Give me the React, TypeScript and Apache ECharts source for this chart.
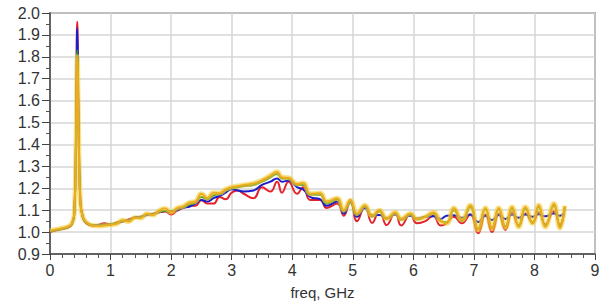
import React, { useEffect, useRef } from "react";
import * as echarts from "echarts";

const freq = [
  0, 0.1, 0.2, 0.3, 0.36, 0.4, 0.43, 0.45, 0.47, 0.5, 0.54, 0.6, 0.7, 0.8, 0.9,
  1.0, 1.1, 1.2, 1.3, 1.4, 1.5, 1.6, 1.7, 1.8, 1.9, 2.0, 2.1, 2.2, 2.3, 2.4,
  2.5, 2.6, 2.7, 2.8, 2.9, 3.0, 3.1, 3.2, 3.36, 3.5, 3.64, 3.75, 3.83, 3.94,
  4.08, 4.18, 4.3, 4.46, 4.57, 4.74, 4.85, 4.96, 5.07, 5.2, 5.32, 5.44, 5.56,
  5.7, 5.8, 5.95, 6.06, 6.2, 6.33, 6.45, 6.55, 6.67, 6.8, 6.94, 7.07, 7.19,
  7.3, 7.41, 7.52, 7.63, 7.74, 7.85, 7.97, 8.07, 8.18, 8.32, 8.42, 8.5,
];

const redSeries = [
  1.0, 1.008, 1.014, 1.022, 1.035, 1.08, 1.45, 1.96, 1.55, 1.15, 1.07, 1.04, 1.03, 1.034, 1.04,
  1.034, 1.044, 1.05, 1.058, 1.068, 1.07, 1.08, 1.082, 1.09, 1.094, 1.08, 1.098, 1.11, 1.12, 1.12,
  1.145, 1.13, 1.13, 1.16, 1.15, 1.18, 1.19, 1.175, 1.155, 1.205, 1.185, 1.23, 1.18, 1.23,
  1.175, 1.205, 1.146, 1.146, 1.11, 1.13, 1.075, 1.146, 1.05, 1.115, 1.042, 1.1, 1.032,
  1.088, 1.03, 1.08, 1.04, 1.05, 1.075, 1.03, 1.04, 1.07, 1.04, 1.08, 0.995, 1.08,
  1.0, 1.085, 1.01, 1.09, 1.03, 1.085, 1.045, 1.09, 1.035, 1.095, 1.035, 1.11,
];

const blueSeries = [
  1.0, 1.008, 1.014, 1.022, 1.035, 1.08, 1.45, 1.93, 1.55, 1.15, 1.07, 1.04, 1.03, 1.032, 1.035,
  1.036, 1.04, 1.048, 1.054, 1.066, 1.07, 1.078, 1.084, 1.09, 1.096, 1.094, 1.1, 1.112, 1.116, 1.13,
  1.146, 1.14, 1.155, 1.165, 1.18, 1.195, 1.19, 1.185, 1.19, 1.215, 1.23, 1.245, 1.23, 1.235,
  1.205, 1.195, 1.16, 1.15, 1.12, 1.14, 1.085, 1.135, 1.07, 1.11, 1.077, 1.078, 1.064,
  1.08, 1.06, 1.075, 1.062, 1.07, 1.072, 1.06, 1.075, 1.077, 1.065, 1.08, 1.046, 1.075,
  1.055, 1.078, 1.06, 1.08, 1.065, 1.08, 1.07, 1.082, 1.072, 1.085, 1.075, 1.09,
];

const greenSeries = [
  1.005, 1.01, 1.016, 1.024, 1.038, 1.08, 1.42, 1.83, 1.5, 1.14, 1.07, 1.045, 1.032, 1.03, 1.032,
  1.036, 1.04, 1.052, 1.052, 1.066, 1.068, 1.082, 1.08, 1.094, 1.096, 1.094, 1.106, 1.114, 1.126, 1.136,
  1.16, 1.15, 1.168, 1.175, 1.19, 1.2, 1.205, 1.21, 1.215, 1.23, 1.25, 1.265, 1.245, 1.245,
  1.215, 1.215, 1.17, 1.17, 1.13, 1.15, 1.095, 1.14, 1.08, 1.118, 1.07, 1.095, 1.06,
  1.086, 1.055, 1.082, 1.058, 1.07, 1.085, 1.05, 1.045, 1.1, 1.05, 1.115, 1.015, 1.105,
  1.02, 1.105, 1.025, 1.108, 1.028, 1.108, 1.04, 1.115, 1.028, 1.12, 1.025, 1.115,
];

const yellowSeries = [
  1.005, 1.012, 1.018, 1.026, 1.04, 1.08, 1.4, 1.8, 1.5, 1.14, 1.07, 1.045, 1.03, 1.028, 1.03,
  1.034, 1.038, 1.054, 1.048, 1.066, 1.064, 1.084, 1.078, 1.098, 1.108, 1.09, 1.11, 1.118, 1.135, 1.14,
  1.175, 1.155, 1.18, 1.178, 1.195, 1.205, 1.21, 1.215, 1.222, 1.237, 1.258, 1.275, 1.25, 1.248,
  1.22, 1.225, 1.175, 1.178, 1.14, 1.155, 1.1, 1.145, 1.085, 1.122, 1.075, 1.1, 1.062,
  1.09, 1.06, 1.085, 1.06, 1.07, 1.09, 1.05, 1.04, 1.11, 1.055, 1.123, 1.01, 1.11,
  1.015, 1.11, 1.02, 1.115, 1.023, 1.115, 1.04, 1.123, 1.023, 1.13, 1.018, 1.12,
];

const yTicks = ["0.9", "1.0", "1.1", "1.2", "1.3", "1.4", "1.5", "1.6", "1.7", "1.8", "1.9", "2.0"];
const xTicks = ["0", "1", "2", "3", "4", "5", "6", "7", "8", "9"];
const xName = "freq, GHz";

const pairs = (ys: number[]) => freq.map((f, i) => [f, ys[i]]);

export default function App() {
  const ref = useRef<HTMLDivElement>(null);
  useEffect(() => {
    if (!ref.current) return;
    const chart = echarts.init(ref.current, null, { renderer: "svg" });
    const font = "Liberation Sans, Arial, sans-serif";
    const lineBase = (name: string, data: number[], color: string, width: number, z: number) => ({
      name,
      type: "line",
      data: pairs(data),
      showSymbol: false,
      smooth: 0.5,
      z,
      lineStyle: { color, width },
    });
    chart.setOption({
      animation: false,
      backgroundColor: "#ffffff",
      grid: {
        left: 50,
        right: 10,
        top: 13,
        bottom: 51,
        show: true,
        borderColor: "#555555",
        borderWidth: 1.5,
      },
      xAxis: {
        type: "value",
        min: 0,
        max: 9,
        interval: 1,
        name: xName,
        nameLocation: "middle",
        nameGap: 31,
        nameTextStyle: { fontFamily: font, fontSize: 15, color: "#333" },
        axisLine: { show: true, lineStyle: { color: "#444", width: 1.5 } },
        axisTick: { show: true, length: 6, inside: false, lineStyle: { color: "#444" } },
        minorTick: { show: true, splitNumber: 5, length: 4, lineStyle: { color: "#555" } },
        axisLabel: {
          fontFamily: font,
          fontSize: 16,
          color: "#333",
          margin: 8,
          formatter: (v: number) => xTicks[Math.round(v)] ?? String(v),
        },
        splitLine: { show: true, lineStyle: { color: "#d6d6d6", width: 1.5 } },
      },
      yAxis: {
        type: "value",
        min: 0.9,
        max: 2.0,
        interval: 0.1,
        axisLine: { show: true, lineStyle: { color: "#444", width: 1.5 } },
        axisTick: { show: true, length: 8, lineStyle: { color: "#444" } },
        minorTick: { show: true, splitNumber: 2, length: 4, lineStyle: { color: "#555" } },
        axisLabel: {
          fontFamily: font,
          fontSize: 16,
          color: "#333",
          margin: 10,
          formatter: (v: number) => yTicks[Math.round((v - 0.9) * 10)] ?? v.toFixed(1),
        },
        splitLine: { show: true, lineStyle: { color: "#d6d6d6", width: 1.5 } },
      },
      series: [
        lineBase("red", redSeries, "#e3222b", 2, 2),
        lineBase("blue", blueSeries, "#1c1cc8", 2, 3),
        lineBase("green", greenSeries, "#3a8a2a", 2, 4),
        lineBase("yellowHalo", yellowSeries, "rgba(242,206,60,0.6)", 5, 5),
        lineBase("yellow", yellowSeries, "#eeac1c", 1.8, 6),
      ],
    });
    return () => chart.dispose();
  }, []);
  return (
    <div
      ref={ref}
      style={{ position: "fixed", left: 0, top: 0, width: 605, height: 305 }}
    />
  );
}
